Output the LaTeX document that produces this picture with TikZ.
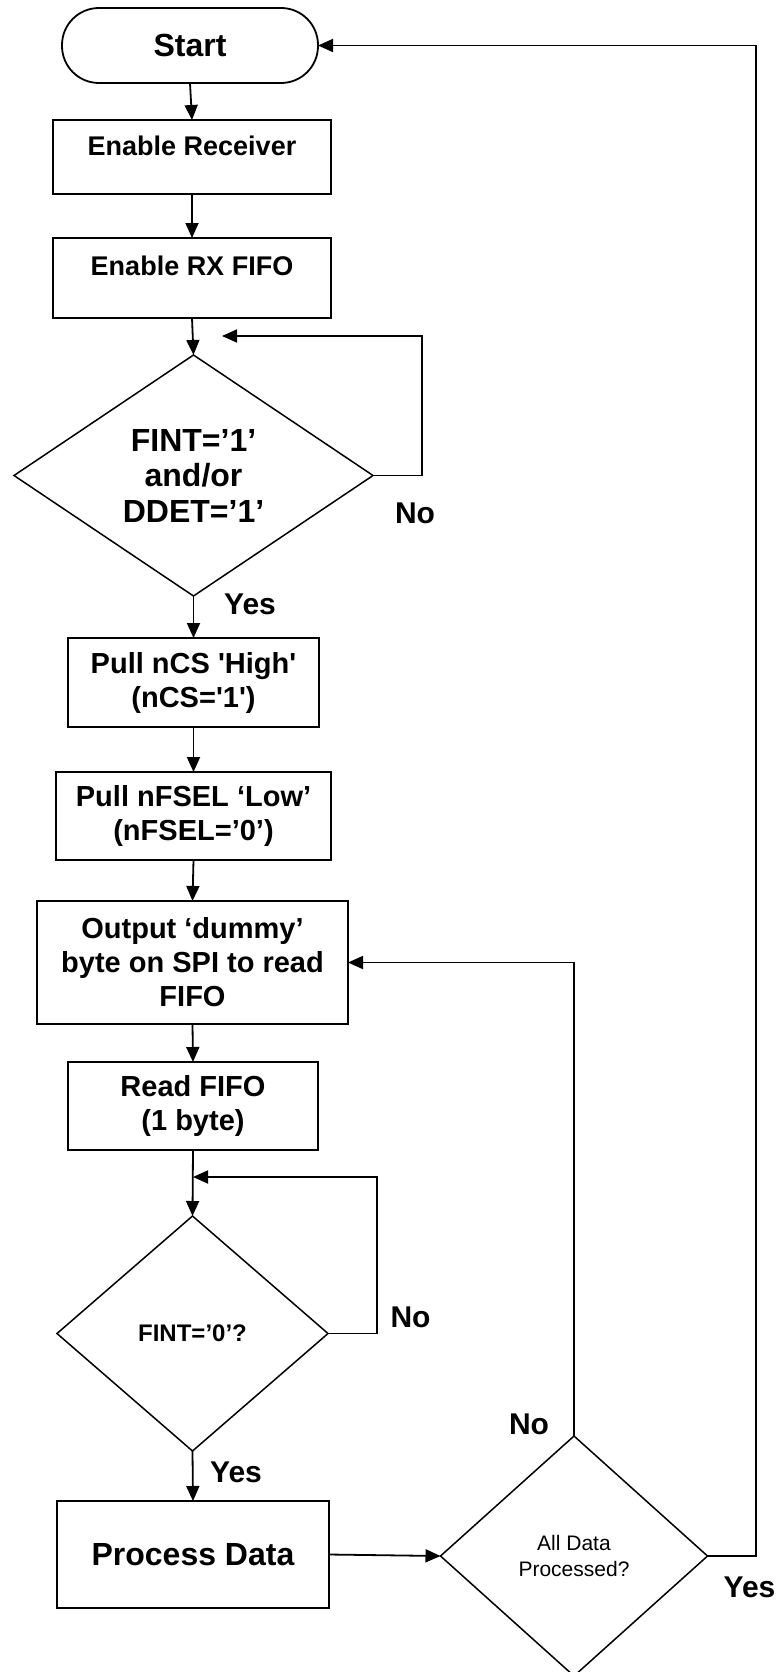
\documentclass[tikz,border=0pt]{standalone}
\usepackage{fontspec}
\setmainfont{Liberation Sans}
\usetikzlibrary{arrows.meta,shapes.geometric}
\begin{document}
\begin{tikzpicture}[x=1pt,y=-1pt, line width=1.8pt,
  box/.style={draw, rectangle, inner sep=0pt, outer sep=0pt, align=center, line width=2pt},
  dec/.style={draw, diamond, inner sep=0pt, outer sep=0pt, align=center, line width=1.5pt},
  arr/.style={-{Triangle[length=15pt,width=13pt]}},
  txt/.style={font=\fontsize{29}{34}\selectfont\bfseries},
  lbl/.style={font=\fontsize{30}{34}\selectfont\bfseries, inner sep=0pt}]
\useasboundingbox (0,0) rectangle (777,1672);
% nodes
\node[box, line width=1.8pt, minimum width=256pt, minimum height=75pt, rounded corners=37pt,
      font=\fontsize{32}{36}\selectfont\bfseries] (start) at (190,45.5) {Start};
\node[box, minimum width=278pt, minimum height=74pt] (recv) at (192,157) {};
\node[anchor=base, inner sep=0pt, font=\fontsize{27}{32}\selectfont\bfseries] (recvt) at (192,156) {Enable Receiver};
\node[box, minimum width=278pt, minimum height=80pt] (rxfifo) at (192,278) {};
\node[anchor=base, inner sep=0pt, font=\fontsize{27}{32}\selectfont\bfseries] (rxt) at (192,275) {Enable RX FIFO};
\node[dec, minimum width=359pt, minimum height=241pt,
      font=\fontsize{32}{35.5}\selectfont\bfseries] (d1) at (193.5,475.5) {FINT=’1’\\and/or\\DDET=’1’};
\node[box, txt, minimum width=251pt, minimum height=89pt] (ncs) at (193.5,682.5)
  {Pull nCS \textquotesingle High\textquotesingle\\(nCS=\textquotesingle 1\textquotesingle)};
\node[box, txt, minimum width=275pt, minimum height=88pt] (fsel) at (193.5,816) {Pull nFSEL ‘Low’\\(nFSEL=’0’)};
\node[box, txt, minimum width=311pt, minimum height=123pt] (out) at (192.5,962.5) {Output ‘dummy’\\byte on SPI to read\\FIFO};
\node[box, txt, minimum width=250pt, minimum height=88pt] (read) at (193,1106) {Read FIFO\\(1 byte)};
\node[dec, minimum width=271pt, minimum height=235pt,
      font=\fontsize{24}{28}\selectfont\bfseries] (d2) at (192.5,1333.5) {FINT=’0’?};
\node[box, minimum width=272pt, minimum height=107pt,
      font=\fontsize{32}{36}\selectfont\bfseries] (proc) at (193,1554.5) {Process Data};
\node[dec, minimum width=267pt, minimum height=240pt,
      font=\fontsize{21}{26}\selectfont] (d3) at (574,1556) {All Data\\Processed?};
% labels
\node[lbl] (no1) at (415,513) {No};
\node[lbl] (yes1) at (250,604) {Yes};
\node[lbl] (no2) at (410.5,1317) {No};
\node[lbl] (yes2) at (236,1472) {Yes};
\node[lbl] (no3) at (529,1424) {No};
\node[lbl] (yes3) at (749.5,1587.5) {Yes};
% coordinates
\coordinate (l1) at (422,336);
\coordinate (l1end) at (222,336);
\coordinate (l2) at (377,1177);
\coordinate (l3) at (756,45.5);
% connectors
\draw[arr] (start.south) -- (recv.north);
\draw[arr] (recv.south) -- (rxfifo.north);
\draw[arr] (rxfifo.south) -- (d1.north);
\draw[arr] (d1.east) -| (l1) -- (l1end);
\draw[arr] (d1.south) -- (ncs.north);
\draw[arr] (ncs.south) -- (fsel.north);
\draw[arr] (fsel.south) -- (out.north);
\draw[arr] (out.south) -- (read.north);
\draw[arr] (read.south) -- (d2.north);
\draw[arr] (d2.east) -| (l2) -- (read.south |- l2);
\draw[arr] (d2.south) -- (proc.north);
\draw[arr] (proc.east) -- (d3.west);
\draw[arr] (d3.north) |- (out.east);
\draw[arr] (d3.east) -| (l3) -- (start.east);
\end{tikzpicture}
\end{document}
